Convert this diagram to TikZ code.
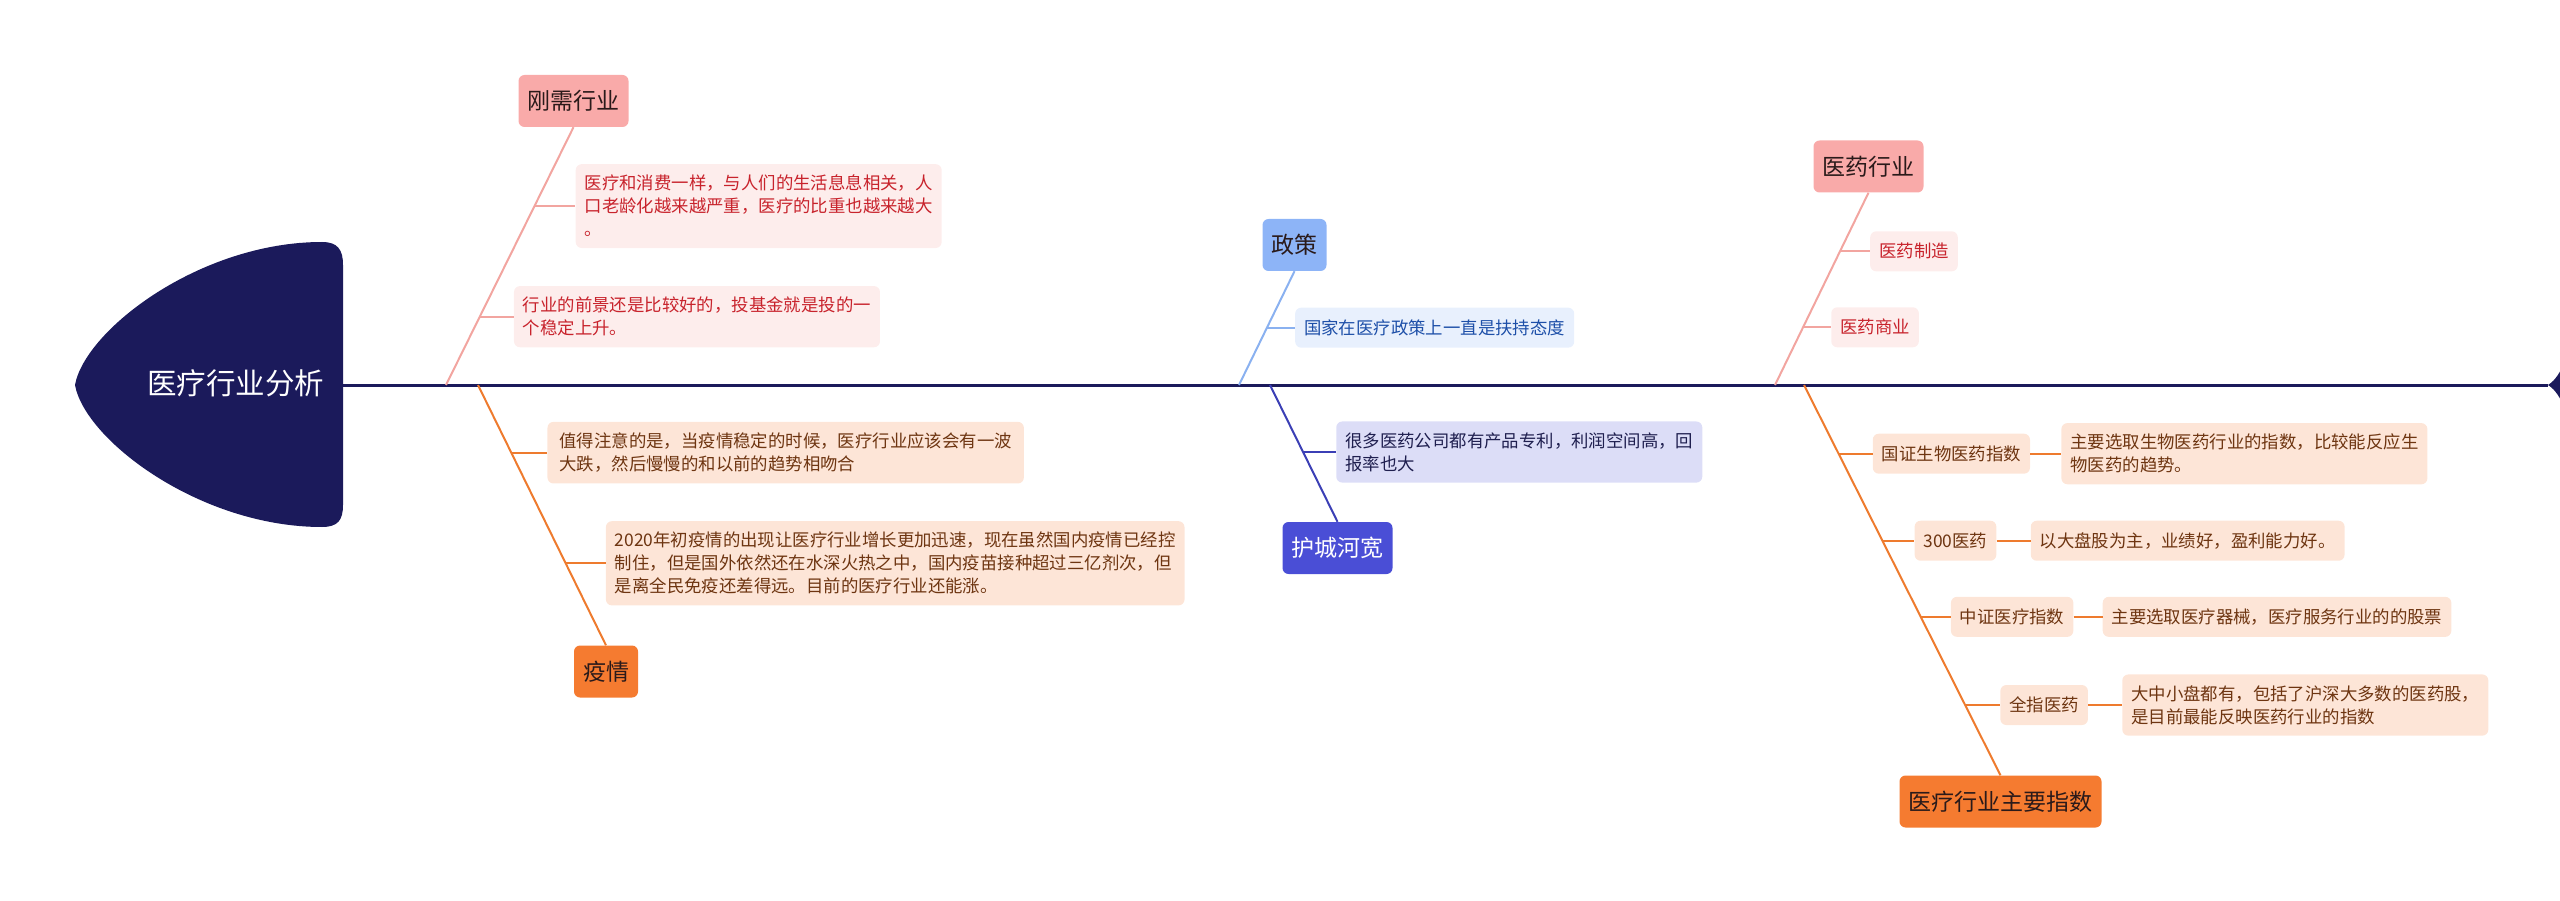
\documentclass[tikz,border=0pt]{standalone}
\usepackage{fontspec}
\setmainfont{Noto Sans CJK SC}
\usetikzlibrary{calc, positioning}
\definecolor{fishnavy}{HTML}{1B1A5B}
\definecolor{pinkmain}{HTML}{F9AAA9}
\definecolor{pinkfill}{HTML}{FDEDEC}
\definecolor{pinkline}{HTML}{F2A5A0}
\definecolor{pinktext}{HTML}{C8232C}
\definecolor{orgmain}{HTML}{F57B30}
\definecolor{orgfill}{HTML}{FDE5D7}
\definecolor{orgline}{HTML}{EE7B2E}
\definecolor{orgtext}{HTML}{6E3511}
\definecolor{bluemain}{HTML}{8DB4F7}
\definecolor{bluefill}{HTML}{E8F0FD}
\definecolor{blueline}{HTML}{8AB1F0}
\definecolor{bluetext}{HTML}{1D4FA8}
\definecolor{indmain}{HTML}{4A4ED6}
\definecolor{indfill}{HTML}{DCDDF7}
\definecolor{indline}{HTML}{3B3FB5}
\definecolor{indtext}{HTML}{1F1F4F}
\definecolor{darktext}{HTML}{2A1A1A}

\begin{document}
\begin{tikzpicture}[x=1pt, y=-1pt,
    lbl/.style={rounded corners=6pt, inner xsep=9pt, inner ysep=0pt, minimum height=52pt,
                font=\fontsize{23}{28}\selectfont},
    txt/.style={rounded corners=6pt, inner xsep=9pt, inner ysep=11pt, align=left,
                font=\fontsize{17.4}{23}\selectfont},
    one/.style={txt, inner ysep=0pt, minimum height=40pt},
    ln/.style={line width=2pt}]
    \useasboundingbox (0,0) rectangle (2560,901);

    \fill[fishnavy] (75,385) .. controls (85,330) and (200,242) .. (322,242)
        .. controls (338,242) and (343,250) .. (343,265) -- (343,505)
        .. controls (343,520) and (338,527) .. (322,527)
        .. controls (200,527) and (85,440) .. (75,385) -- cycle;
    \node[text=white, font=\fontsize{29.5}{34}\selectfont, anchor=east] (title) at (328,383) {医疗行业分析};

    \coordinate (headR) at (343,385);
    \coordinate (tailL) at (2548,385);
    \draw[fishnavy, line width=3pt] (headR) -- (tailL);
    \fill[fishnavy] (tailL) .. controls (2556,380) and (2560,372) .. (2566,360) -- (2590,385)
        -- (2566,410) .. controls (2560,398) and (2556,390) .. (tailL) -- cycle;

    \coordinate (r1) at (446,385);
    \coordinate (r2) at (478,385);
    \coordinate (r3) at (1239,385);
    \coordinate (r4) at (1270,385);
    \coordinate (r5) at (1775,385);
    \coordinate (r6) at (1804,385);

    \node[lbl, fill=pinkmain, text=darktext] (gangxu) at (573.5,101) {刚需行业};
    \draw[ln, pinkline] (r1) -- (gangxu.south);
    \coordinate (j11) at ($(r1)!0.694!(gangxu.south)$);
    \coordinate (j12) at ($(r1)!0.265!(gangxu.south)$);
    \node[txt, fill=pinkfill, text=pinktext, right=41pt of j11]
                               (gx1) {医疗和消费一样，与人们的生活息息相关，人\\口老龄化越来越严重，医疗的比重也越来越大\\。};
    \node[txt, fill=pinkfill, text=pinktext, right=34pt of j12]
                               (gx2) {行业的前景还是比较好的，投基金就是投的一\\个稳定上升。};
    \draw[ln, pinkline] (j11) -- (gx1);
    \draw[ln, pinkline] (j12) -- (gx2);

    \node[lbl, fill=orgmain, text=darktext] (yiqing) at (606,671.5) {疫情};
    \draw[ln, orgline] (r2) -- (yiqing.north);
    \coordinate (j21) at ($(r2)!0.26!(yiqing.north)$);
    \coordinate (j22) at ($(r2)!0.685!(yiqing.north)$);
    \node[txt, fill=orgfill, text=orgtext, right=36pt of j21, inner xsep=12pt]
                               (yq1) {值得注意的是，当疫情稳定的时候，医疗行业应该会有一波\\大跌，然后慢慢的和以前的趋势相吻合};
    \node[txt, fill=orgfill, text=orgtext, right=40pt of j22]
                               (yq2) {2020年初疫情的出现让医疗行业增长更加迅速，现在虽然国内疫情已经控\\制住，但是国外依然还在水深火热之中，国内疫苗接种超过三亿剂次，但\\是离全民免疫还差得远。目前的医疗行业还能涨。};
    \draw[ln, orgline] (j21) -- (yq1);
    \draw[ln, orgline] (j22) -- (yq2);

    \node[lbl, fill=bluemain, text=darktext] (zhengce) at (1294.5,245) {政策};
    \draw[ln, blueline] (r3) -- (zhengce.south);
    \coordinate (j31) at ($(r3)!0.504!(zhengce.south)$);
    \node[one, fill=bluefill, text=bluetext, right=28pt of j31]
                               (zc1) {国家在医疗政策上一直是扶持态度};
    \draw[ln, blueline] (j31) -- (zc1);

    \node[lbl, fill=indmain, text=white] (huchenghe) at (1337.5,548) {护城河宽};
    \draw[ln, indline] (r4) -- (huchenghe.north);
    \coordinate (j41) at ($(r4)!0.49!(huchenghe.north)$);
    \node[txt, fill=indfill, text=indtext, right=33pt of j41]
                               (hc1) {很多医药公司都有产品专利，利润空间高，回\\报率也大};
    \draw[ln, indline] (j41) -- (hc1);

    \node[lbl, fill=pinkmain, text=darktext] (yiyao) at (1868.5,166.5) {医药行业};
    \draw[ln, pinkline] (r5) -- (yiyao.south);
    \coordinate (j51) at ($(r5)!0.695!(yiyao.south)$);
    \coordinate (j52) at ($(r5)!0.30!(yiyao.south)$);
    \node[one, fill=pinkfill, text=pinktext, right=30pt of j51] (yy1) {医药制造};
    \node[one, fill=pinkfill, text=pinktext, right=28pt of j52] (yy2) {医药商业};
    \draw[ln, pinkline] (j51) -- (yy1);
    \draw[ln, pinkline] (j52) -- (yy2);

    \node[lbl, fill=orgmain, text=darktext] (zhishu) at (2000.5,801.5) {医疗行业主要指数};
    \draw[ln, orgline] (r6) -- (zhishu.north);
    \coordinate (j61) at ($(r6)!0.176!(zhishu.north)$);
    \coordinate (j62) at ($(r6)!0.399!(zhishu.north)$);
    \coordinate (j63) at ($(r6)!0.594!(zhishu.north)$);
    \coordinate (j64) at ($(r6)!0.82!(zhishu.north)$);
    \node[one, fill=orgfill, text=orgtext, right=34pt of j61] (zs1) {国证生物医药指数};
    \node[one, fill=orgfill, text=orgtext, right=32pt of j62] (zs2) {300医药};
    \node[one, fill=orgfill, text=orgtext, right=30pt of j63] (zs3) {中证医疗指数};
    \node[one, fill=orgfill, text=orgtext, right=35pt of j64] (zs4) {全指医药};
    \node[txt, fill=orgfill, text=orgtext, right=31pt of zs1]
                               (zs1d) {主要选取生物医药行业的指数，比较能反应生\\物医药的趋势。};
    \node[one, fill=orgfill, text=orgtext, right=34pt of zs2]
                               (zs2d) {以大盘股为主，业绩好，盈利能力好。};
    \node[one, fill=orgfill, text=orgtext, right=29pt of zs3]
                               (zs3d) {主要选取医疗器械，医疗服务行业的的股票};
    \node[txt, fill=orgfill, text=orgtext, right=34pt of zs4]
                               (zs4d) {大中小盘都有，包括了沪深大多数的医药股，\\是目前最能反映医药行业的指数};
    \draw[ln, orgline] (j61) -- (zs1);
    \draw[ln, orgline] (j62) -- (zs2);
    \draw[ln, orgline] (j63) -- (zs3);
    \draw[ln, orgline] (j64) -- (zs4);
    \draw[ln, orgline] (zs1) -- (zs1d);
    \draw[ln, orgline] (zs2) -- (zs2d);
    \draw[ln, orgline] (zs3) -- (zs3d);
    \draw[ln, orgline] (zs4) -- (zs4d);
  \end{tikzpicture}
\end{document}
